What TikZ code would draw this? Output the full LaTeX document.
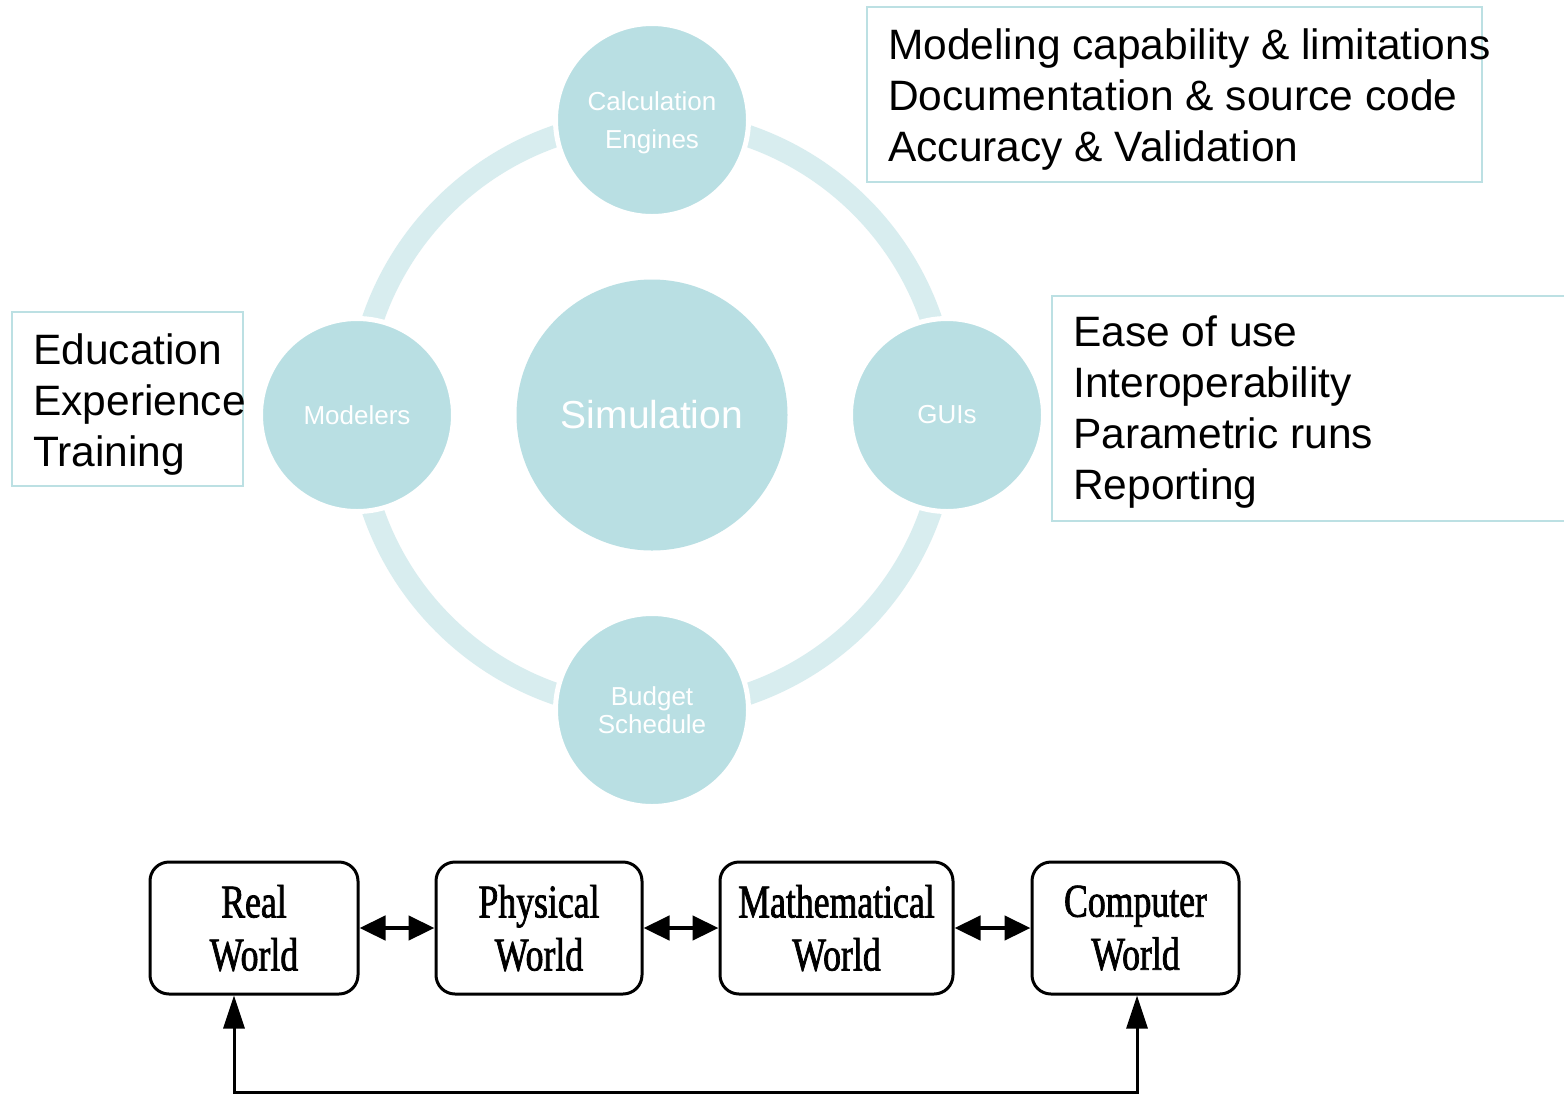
\documentclass[tikz,border=0pt]{standalone}
\usepackage{fontspec}
\setmainfont{Liberation Sans}
\newfontfamily\scanserif[FakeStretch=0.76,FakeBold=1.5]{Liberation Serif}
\usetikzlibrary{arrows.meta}

\definecolor{disccol}{HTML}{B9DFE3}
\definecolor{ringcol}{HTML}{D8EDEF}
\definecolor{framecol}{HTML}{BCE0E3}

\begin{document}
\begin{tikzpicture}[x=1pt,y=-1pt,
  disc/.style={circle, fill=disccol, draw=white, line width=5pt,
    minimum size=193pt, inner sep=0pt, text=white, align=center,
    font=\fontsize{26}{38}\selectfont},
  hub/.style={circle, fill=disccol, minimum size=271pt, inner sep=0pt,
    text=white, font=\fontsize{39}{44}\selectfont},
  infobox/.style={draw=framecol, line width=2pt, inner sep=0pt,
    outer sep=0pt, anchor=north west},
  infotext/.style={anchor=base west, align=left, inner sep=0pt,
    font=\fontsize{42.5}{51}\selectfont},
  world/.style={draw=black, rounded corners=19pt, line width=3pt,
    minimum height=132pt, inner sep=0pt, align=center,
    font=\scanserif\fontsize{47}{53}\selectfont},
  link/.style={line width=4.5pt,
    {Triangle[length=26pt,width=24pt]}-{Triangle[length=26pt,width=24pt]}},
  feedback/.style={line width=3pt,
    {Triangle[length=33pt,width=21pt]}-{Triangle[length=33pt,width=21pt]}}]

\useasboundingbox (0,0) rectangle (1564,1096);
\fill[white] (0,0) rectangle (1564,1096);

% ring joining the four satellites
\draw[ringcol, line width=22pt] (652,415) circle[radius=295pt];

% central hub and satellites
\node[hub] (sim) at (652,415) {Simulation};
\node[disc] (engines) at (652,120) {\rule{0pt}{25pt}Calculation\\Engines};
\node[disc] (modelers) at (357,415) {Modelers};
\node[disc] (guis) at (947,415) {GUIs};
\node[disc, font=\fontsize{26}{28}\selectfont] (budget) at (652,710) {Budget\\Schedule};

% annotation boxes (text anchored on the baseline of its last line)
\node[infobox, minimum width=615pt, minimum height=175pt] (enginebox) at (867,7) {};
\node[infotext] (enginetext) at (888,161)
  {Modeling capability \& limitations\\Documentation \& source code\\Accuracy \& Validation};

\node[infobox, minimum width=530pt, minimum height=225pt] (guibox) at (1052,296) {};
\node[infotext] (guitext) at (1073,499)
  {Ease of use\\Interoperability\\Parametric runs\\Reporting};

\node[infobox, minimum width=231pt, minimum height=174pt] (modelerbox) at (12,312) {};
\node[infotext] (modelertext) at (33,466)
  {Education\\Experience\\Training};

% chain of worlds
\node[world, minimum width=208pt] (real) at (254,928) {Real\\World};
\node[world, minimum width=206pt] (phys) at (539,928) {Physical\\World};
\node[world, minimum width=233pt] (math) at (836.5,928) {Mathematical\\World};
\node[world, minimum width=207pt] (comp) at (1135.5,928) {Computer\\World};

\draw[link] (real) -- (phys);
\draw[link] (phys) -- (math);
\draw[link] (math) -- (comp);

\coordinate (fbl) at (234,1092);
\coordinate (fbr) at (1137,1092);
\draw[feedback] (fbl |- real.south) -- (fbl) -- (fbr) -- (fbr |- comp.south);
\end{tikzpicture}
\end{document}
